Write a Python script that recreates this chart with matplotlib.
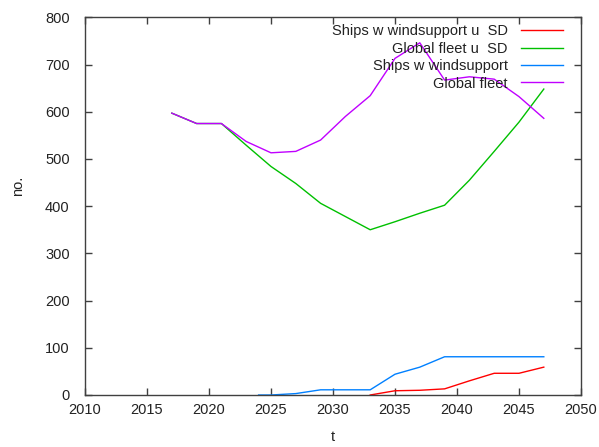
import matplotlib
matplotlib.use("Agg")
import matplotlib.pyplot as plt

plt.rcParams['font.family'] = ['Liberation Sans', 'DejaVu Sans']

years = [2017, 2019, 2021, 2023, 2025, 2027, 2029, 2031, 2033, 2035, 2037, 2039, 2041, 2043, 2045, 2047]
global_fleet = [597, 575, 575, 537, 513, 516, 540, 590, 634, 713, 746, 667, 674, 669, 632, 586]
global_fleet_sd = [597, 575, 575, 529, 484, 448, 406, 378, 350, 367, 385, 402, 455, 516, 578, 648]

wind_years = [2024, 2025, 2027, 2029, 2031, 2033, 2035, 2037, 2039, 2041, 2043, 2045, 2047]
wind = [0, 0, 3, 11, 11, 11, 44, 59, 81, 81, 81, 81, 81]

wind_sd_years = [2033, 2035, 2037, 2039, 2041, 2043, 2045, 2047]
wind_sd = [0, 9, 10, 13, 30, 46, 46, 59]

labels = ["Ships w windsupport u  SD", "Global fleet u  SD", "Ships w windsupport", "Global fleet"]
colors = ["#ff0000", "#00c000", "#0080ff", "#c000ff"]

fs = 10.5

fig = plt.figure(figsize=(5.99, 4.47), dpi=100)
ax = fig.add_axes([85/599, 1-395/447, (581-85)/599, (395-17.3)/447])

ax.plot(wind_sd_years, wind_sd, color=colors[0], lw=1, label=labels[0])
ax.plot(years, global_fleet_sd, color=colors[1], lw=1, label=labels[1])
ax.plot(wind_years, wind, color=colors[2], lw=1, label=labels[2])
ax.plot(years, global_fleet, color=colors[3], lw=1, label=labels[3])

ax.set_xlim(2010, 2050)
ax.set_ylim(0, 800)
ax.set_xticks(range(2010, 2051, 5))
ax.set_yticks(range(0, 801, 100))
ax.tick_params(direction='in', length=5, width=1, top=True, right=True,
               labelsize=fs, colors='#404040', labelcolor='#222222')
ax.tick_params(axis='x', pad=6)
ax.tick_params(axis='y', pad=11)
for s in ax.spines.values():
    s.set_color('#404040')
    s.set_linewidth(1)

ax.set_xlabel('t', fontsize=fs, color='#222222', labelpad=9)
ax.set_ylabel('no.', fontsize=fs, color='#222222')
ax.yaxis.set_label_coords(-0.121, 0.555)

leg = ax.legend(loc='upper right', bbox_to_anchor=((563-85)/496, 0.981),
                frameon=False, markerfirst=False, fontsize=fs,
                handlelength=2.9, handletextpad=0.9, labelspacing=0.23,
                borderaxespad=0, borderpad=0)
for t in leg.get_texts():
    t.set_color('#222222')

fig.savefig('out.png', dpi=100)
